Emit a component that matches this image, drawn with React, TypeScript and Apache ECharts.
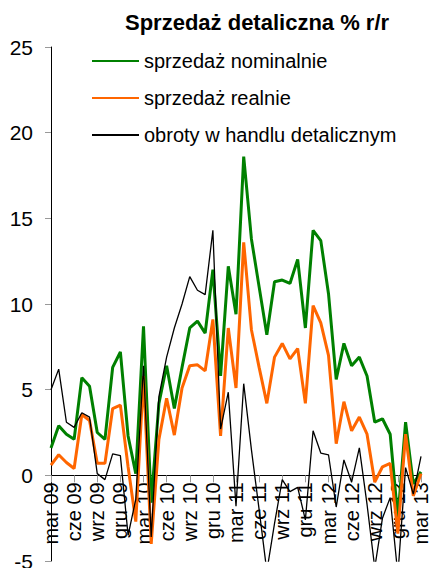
import React, { useEffect, useRef } from "react";
import * as echarts from "echarts";

const categories: string[] = [
  "mar 09", "kwi 09", "maj 09", "cze 09", "lip 09", "sie 09", "wrz 09", "paź 09", "lis 09", "gru 09",
  "sty 10", "lut 10", "mar 10", "kwi 10", "maj 10", "cze 10", "lip 10", "sie 10", "wrz 10", "paź 10", "lis 10", "gru 10",
  "sty 11", "lut 11", "mar 11", "kwi 11", "maj 11", "cze 11", "lip 11", "sie 11", "wrz 11", "paź 11", "lis 11", "gru 11",
  "sty 12", "lut 12", "mar 12", "kwi 12", "maj 12", "cze 12", "lip 12", "sie 12", "wrz 12", "paź 12", "lis 12", "gru 12",
  "sty 13", "lut 13", "mar 13",
];

const nominal: number[] = [
  1.6, 2.9, 2.4, 2.1, 5.7, 5.2, 2.5, 2.1, 6.3, 7.2,
  2.3, 0.1, 8.7, -1.6, 4.2, 6.4, 3.9, 6.3, 8.6, 9.0, 8.3, 12.0,
  5.8, 12.2, 9.4, 18.6, 13.8, 11.0, 8.2, 11.3, 11.4, 11.2, 12.6, 8.6,
  14.3, 13.7, 10.6, 5.6, 7.7, 6.4, 6.9, 5.8, 3.1, 3.3, 2.4, -2.5,
  3.1, -0.5, 0.2,
];

const real: number[] = [
  0.6, 1.2, 0.75, 0.4, 3.55, 3.2, 0.7, 0.7, 3.9, 4.1,
  0.5, -2.7, 5.8, -4.0, 2.1, 4.5, 2.35, 5.1, 6.4, 6.45, 6.1, 9.1,
  2.3, 8.6, 5.1, 13.6, 8.5, 6.3, 4.2, 6.9, 7.7, 6.8, 7.4, 4.2,
  9.9, 8.9, 7.0, 1.85, 4.3, 2.6, 3.4, 2.4, -0.4, 0.5, 0.7, -3.4,
  2.4, -1.2, 0.1,
];

const turnover: number[] = [
  5.0, 6.2, 3.1, 2.8, 3.65, 3.4, 0.1, -0.25, 1.25, 1.15,
  -3.5, -1.4, 6.4, -3.6, 4.6, 6.9, 8.6, 10.0, 11.6, 10.8, 10.55, 14.3,
  2.7, 4.85, -1.8, 5.35, 1.5, -2.0, -5.6, -2.8, -0.25, -0.95, -0.7, -2.6,
  2.6, 1.3, 1.2, -1.85, 0.9, -0.4, 1.6, -1.7, -5.4, -2.5, -1.3, -5.8,
  0.45, -1.1, 1.1,
];

const seriesNames: string[] = [
  "sprzedaż nominalnie",
  "sprzedaż realnie",
  "obroty w handlu detalicznym",
];

const titleText = "Sprzedaż detaliczna % r/r";

const FONT = "'Liberation Sans', Arial, sans-serif";

const Y_MIN = -5;
const Y_MAX = 25;
const GRID_TOP = 47;
const GRID_BOTTOM = 7;
const CHART_H = 568;

export default function App() {
  const ref = useRef<HTMLDivElement>(null);
  useEffect(() => {
    if (!ref.current) return;
    const chart = echarts.init(ref.current, undefined, { renderer: "svg" });
    const plotH = CHART_H - GRID_TOP - GRID_BOTTOM;
    const zeroOffset = -((0 - Y_MIN) / (Y_MAX - Y_MIN)) * plotH;
    chart.setOption({
      animation: false,
      backgroundColor: "#ffffff",
      title: {
        text: titleText,
        left: 125,
        top: 11,
        padding: 0,
        textStyle: { fontFamily: FONT, fontSize: 22, fontWeight: "bold", color: "#000" },
      },
      legend: {
        orient: "vertical",
        left: 91,
        top: 51,
        padding: 0,
        itemWidth: 47,
        itemHeight: 14,
        itemGap: 17,
        data: seriesNames,
        itemStyle: { opacity: 0 },
        textStyle: { fontFamily: FONT, fontSize: 20, color: "#000", lineHeight: 20 },
      },
      grid: {
        left: 51,
        right: 12,
        top: GRID_TOP,
        bottom: GRID_BOTTOM,
        outerBoundsMode: "none",
        containLabel: false,
      },
      xAxis: {
        type: "category",
        data: categories,
        boundaryGap: false,
        position: "bottom",
        offset: zeroOffset,
        axisLine: { onZero: false, lineStyle: { color: "#000", width: 1 } },
        axisTick: { show: true, interval: 2, length: 7, lineStyle: { color: "#999" } },
        axisLabel: {
          interval: 2,
          rotate: 90,
          margin: 7,
          fontFamily: FONT,
          fontSize: 20,
          color: "#000",
        },
        splitLine: { show: false },
      },
      yAxis: {
        type: "value",
        min: Y_MIN,
        max: Y_MAX,
        interval: 5,
        axisLine: { show: true, lineStyle: { color: "#000", width: 1 } },
        axisTick: { show: true, length: 6, lineStyle: { color: "#999" } },
        axisLabel: { margin: 18, fontFamily: FONT, fontSize: 21, color: "#000" },
        splitLine: { show: false },
      },
      series: [
        {
          name: seriesNames[0],
          type: "line",
          data: nominal,
          symbol: "none",
          color: "#008000",
          lineStyle: { color: "#008000", width: 3 },
        },
        {
          name: seriesNames[1],
          type: "line",
          data: real,
          symbol: "none",
          color: "#FF6600",
          lineStyle: { color: "#FF6600", width: 3 },
        },
        {
          name: seriesNames[2],
          type: "line",
          data: turnover,
          symbol: "none",
          color: "#000000",
          lineStyle: { color: "#000000", width: 1.3 },
        },
      ],
    });
    return () => chart.dispose();
  }, []);
  return (
    <div
      ref={ref}
      style={{ position: "fixed", left: 0, top: 0, width: 433, height: 568 }}
    />
  );
}
